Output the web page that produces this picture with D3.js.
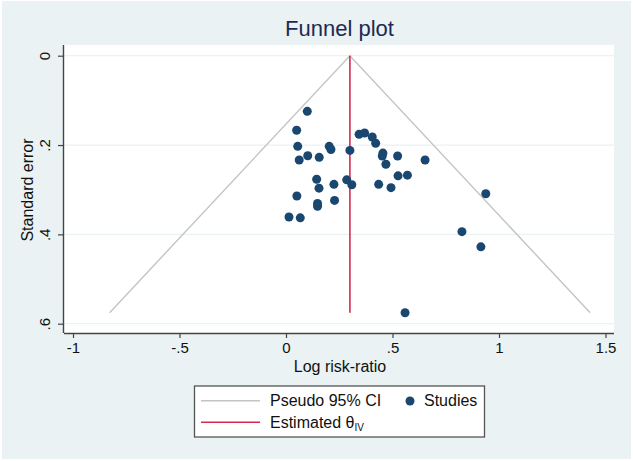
<!DOCTYPE html>
<html>
<head>
<meta charset="utf-8">
<script src="https://cdn.jsdelivr.net/npm/d3@7"></script>
<style>
  body { margin: 0; background: #fff; }
  text { font-family: "Liberation Sans", Arial, sans-serif; fill: #111; }
</style>
</head>
<body>
<div id="chart"></div>
<script>
// study estimates
const logRR = [0.100, 0.050, 0.055, 0.062, 0.102, 0.156, 0.203, 0.211, 0.300, 0.343,
  0.369, 0.405, 0.421, 0.455, 0.452, 0.524, 0.469, 0.653, 0.144, 0.155,
  0.225, 0.285, 0.309, 0.435, 0.493, 0.526, 0.570, 0.051, 0.228, 0.148,
  0.148, 0.014, 0.067, 0.938, 0.826, 0.915, 0.559];
const stdErr = [0.1245, 0.167, 0.203, 0.2335, 0.224, 0.2275, 0.203, 0.210, 0.212, 0.176,
  0.173, 0.182, 0.196, 0.218, 0.2245, 0.2245, 0.243, 0.2335, 0.2767, 0.2966,
  0.288, 0.278, 0.289, 0.288, 0.2955, 0.269, 0.2675, 0.314, 0.324, 0.331,
  0.337, 0.361, 0.363, 0.309, 0.394, 0.428, 0.5755];
const thetaIV = 0.30;
const xTicks = [-1, -0.5, 0, 0.5, 1, 1.5];
const xTickLabels = ["-1", "-.5", "0", ".5", "1", "1.5"];
const yTicks = [0, 0.2, 0.4, 0.6];
const yTickLabels = ["0", ".2", ".4", ".6"];

const W = 633, H = 461;
const bg = "#eaf2f3";
const navy = "#1a476f";

const svg = d3.select("#chart").append("svg")
  .attr("width", W).attr("height", H);

svg.append("rect").attr("x", 2).attr("y", 1).attr("width", W - 4).attr("height", H - 3)
  .attr("fill", bg);

// plot region
const plot = {left: 64, right: 614, top: 45, bottom: 333};
svg.append("rect")
  .attr("x", plot.left).attr("y", plot.top)
  .attr("width", plot.right - plot.left).attr("height", plot.bottom - plot.top)
  .attr("fill", "#fff");

const x = d3.scaleLinear().domain([-1, 1.5]).range([73, 605.5]);
const y = d3.scaleLinear().domain([0, 0.6]).range([55.7, 323.7]);

// gridlines
svg.append("g").selectAll("line").data(yTicks).enter().append("line")
  .attr("x1", plot.left).attr("x2", plot.right)
  .attr("y1", d => y(d)).attr("y2", d => y(d))
  .attr("stroke", bg).attr("stroke-width", 1.2);

// pseudo 95% CI funnel
const seMax = d3.max(stdErr);
const funnel = [[thetaIV - 1.96 * seMax, seMax], [thetaIV, 0], [thetaIV + 1.96 * seMax, seMax]];
svg.append("path")
  .attr("d", d3.line().x(d => x(d[0])).y(d => y(d[1]))(funnel))
  .attr("fill", "none").attr("stroke", "#c4c4c4").attr("stroke-width", 1.4);

// estimated theta
svg.append("line")
  .attr("x1", x(thetaIV)).attr("x2", x(thetaIV))
  .attr("y1", y(0)).attr("y2", y(seMax))
  .attr("stroke", "#d9294f").attr("stroke-width", 1.6);

// studies
svg.append("g").selectAll("circle").data(logRR).enter().append("circle")
  .attr("cx", d => x(d))
  .attr("cy", (d, i) => y(stdErr[i]))
  .attr("r", 4.5)
  .attr("fill", navy);

// axes
const axisColor = "#444";
const xAxis = d3.axisBottom(x).tickValues(xTicks).tickSize(5).tickPadding(4)
  .tickFormat((d, i) => xTickLabels[i]);
const gx = svg.append("g").attr("transform", `translate(0,${plot.bottom})`).call(xAxis);
gx.select(".domain").attr("d", `M${plot.left},0.5H${plot.right}`);

const yAxis = d3.axisLeft(y).tickValues(yTicks).tickSize(6).tickFormat((d, i) => yTickLabels[i]);
const gy = svg.append("g").attr("transform", `translate(${plot.left},0)`).call(yAxis);
gy.select(".domain").attr("d", `M-0.5,${plot.top}V${plot.bottom}`);
gy.selectAll(".tick text")
  .attr("x", null).attr("dy", null)
  .attr("text-anchor", "middle")
  .attr("transform", "translate(-14,0) rotate(-90)");

[gx, gy].forEach(g => {
  g.select(".domain").attr("stroke", axisColor).attr("stroke-width", 1.4);
  g.selectAll(".tick line").attr("stroke", axisColor).attr("stroke-width", 1.2);
  g.selectAll(".tick text").attr("font-size", 15)
    .style("font-family", '"Liberation Sans", Arial, sans-serif').attr("fill", "#111");
});

// titles
svg.append("text").attr("x", 339.5).attr("y", 36).attr("text-anchor", "middle")
  .attr("font-size", 22).style("fill", "#1e2a55").text("Funnel plot");
svg.append("text").attr("x", 340).attr("y", 372).attr("text-anchor", "middle")
  .attr("font-size", 16).text("Log risk-ratio");
svg.append("text").attr("transform", "translate(32.7,190) rotate(-90)")
  .attr("text-anchor", "middle").attr("font-size", 16).text("Standard error");

// legend
const lg = svg.append("g");
lg.append("rect").attr("x", 194.5).attr("y", 386).attr("width", 290).attr("height", 51)
  .attr("fill", "#fff").attr("stroke", "#555").attr("stroke-width", 1.3);
lg.append("line").attr("x1", 201).attr("x2", 260).attr("y1", 400.7).attr("y2", 400.7)
  .attr("stroke", "#c4c4c4").attr("stroke-width", 1.4);
lg.append("line").attr("x1", 201).attr("x2", 260).attr("y1", 422.3).attr("y2", 422.3)
  .attr("stroke", "#d9294f").attr("stroke-width", 1.6);
lg.append("text").attr("x", 270).attr("y", 406).attr("font-size", 16).text("Pseudo 95% CI");
lg.append("circle").attr("cx", 410).attr("cy", 401).attr("r", 4.5).attr("fill", navy);
lg.append("text").attr("x", 424).attr("y", 406).attr("font-size", 16).text("Studies");
const est = lg.append("text").attr("x", 270).attr("y", 428).attr("font-size", 16);
est.append("tspan").text("Estimated θ");
est.append("tspan").attr("font-size", 10).attr("dy", 3).text("IV");
</script>
</body>
</html>
